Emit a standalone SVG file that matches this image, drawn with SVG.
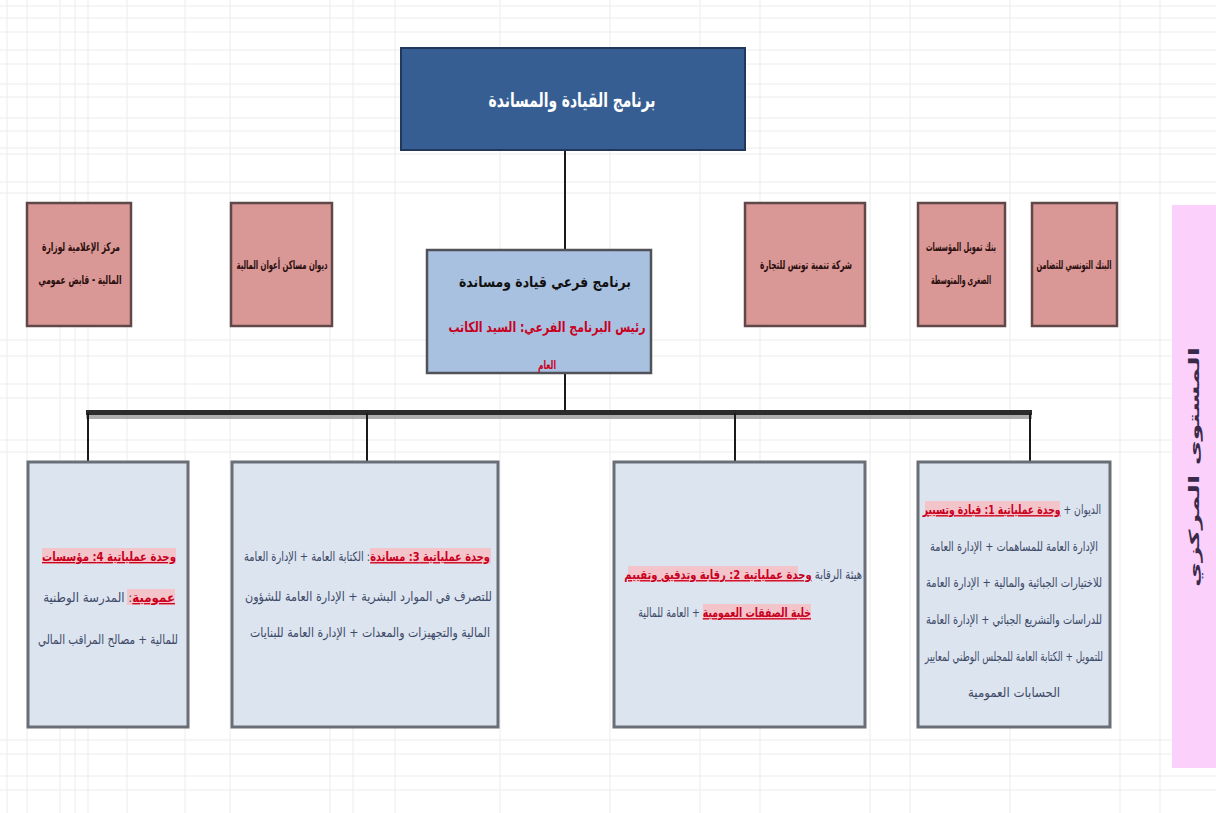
<svg xmlns="http://www.w3.org/2000/svg" width="1216" height="813" viewBox="0 0 1216 813">
<style>
  text { font-family: "DejaVu Sans", "Noto Sans", sans-serif; }
  .top { fill: #365e92; stroke: #22385a; stroke-width: 2; }
  .mid { fill: #a9c1e1; stroke: #505257; stroke-width: 2.5; }
  .pink { fill: #d99795; stroke: #604848; stroke-width: 2.5; }
  .unit { fill: #dce4ef; stroke: #6a6e76; stroke-width: 3; }
  .side { fill: #fbd0fb; }
  .ptxt { font-size: 12px; font-weight: bold; fill: #2a0e0e; }
  .utxt { font-size: 13px; fill: #3c4a68; }
  .red { fill: #c8001e; font-weight: bold; text-decoration: underline; }
  .hl { fill: #f4c4cb; }
  .conn { stroke: #1a1a1a; stroke-width: 2; fill: none; }
  .grid line { stroke: #ececec; stroke-width: 1; }
</style>
<rect width="1216" height="813" fill="#ffffff"/>
<g class="grid">
  <line x1="0" y1="6" x2="1216" y2="6"/><line x1="0" y1="18" x2="1216" y2="18"/><line x1="0" y1="32" x2="1216" y2="32"/>
  <line x1="0" y1="50" x2="1216" y2="50"/><line x1="0" y1="64" x2="1216" y2="64"/><line x1="0" y1="84" x2="1216" y2="84"/>
  <line x1="0" y1="97" x2="1216" y2="97"/><line x1="0" y1="118" x2="1216" y2="118"/><line x1="0" y1="131" x2="1216" y2="131"/>
  <line x1="0" y1="148" x2="1216" y2="148"/><line x1="0" y1="154" x2="1216" y2="154"/><line x1="0" y1="182" x2="1216" y2="182"/>
  <line x1="0" y1="193" x2="1216" y2="193"/><line x1="0" y1="340" x2="1216" y2="340"/><line x1="0" y1="356" x2="1216" y2="356"/>
  <line x1="0" y1="384" x2="1216" y2="384"/><line x1="0" y1="398" x2="1216" y2="398"/><line x1="0" y1="440" x2="1216" y2="440"/>
  <line x1="0" y1="452" x2="1216" y2="452"/><line x1="0" y1="740" x2="1216" y2="740"/><line x1="0" y1="754" x2="1216" y2="754"/>
  <line x1="0" y1="776" x2="1216" y2="776"/><line x1="0" y1="790" x2="1216" y2="790"/>
  <line x1="7" y1="0" x2="7" y2="813"/><line x1="27" y1="0" x2="27" y2="813"/><line x1="60" y1="0" x2="60" y2="813"/>
  <line x1="75" y1="0" x2="75" y2="813"/><line x1="88" y1="0" x2="88" y2="813"/><line x1="127" y1="0" x2="127" y2="813"/>
  <line x1="185" y1="0" x2="185" y2="813"/><line x1="230" y1="0" x2="230" y2="813"/><line x1="330" y1="0" x2="330" y2="813"/>
  <line x1="353" y1="0" x2="353" y2="813"/><line x1="395" y1="0" x2="395" y2="813"/><line x1="500" y1="0" x2="500" y2="813"/>
  <line x1="610" y1="0" x2="610" y2="813"/><line x1="700" y1="0" x2="700" y2="813"/><line x1="760" y1="0" x2="760" y2="813"/>
  <line x1="870" y1="0" x2="870" y2="813"/><line x1="910" y1="0" x2="910" y2="813"/><line x1="1010" y1="0" x2="1010" y2="813"/>
  <line x1="1120" y1="0" x2="1120" y2="813"/><line x1="1160" y1="0" x2="1160" y2="813"/>
</g>

<g id="connectors">
  <line class="conn" x1="565" y1="150" x2="565" y2="250"/>
  <line class="conn" x1="565" y1="373" x2="565" y2="411"/>
  <rect x="86" y="410" width="946" height="5" fill="#2b2b2b"/>
  <rect x="86" y="415" width="946" height="4" fill="#8a8a8a" opacity="0.7"/>
  <line class="conn" x1="88" y1="413" x2="88" y2="462"/>
  <line class="conn" x1="367" y1="413" x2="367" y2="462"/>
  <line class="conn" x1="735" y1="413" x2="735" y2="462"/>
  <line class="conn" x1="1030" y1="413" x2="1030" y2="462"/>
</g>

<g id="program">
  <rect class="top" x="401" y="48" width="344" height="102"/>
  <text x="572" y="107" text-anchor="middle" direction="rtl" font-size="20" font-weight="bold" fill="#ffffff" textLength="167" lengthAdjust="spacingAndGlyphs">برنامج القيادة والمساندة</text>
</g>

<g id="subprogram">
  <rect class="mid" x="427" y="250" width="224" height="123"/>
  <text x="545" y="287" text-anchor="middle" direction="rtl" font-size="15" font-weight="bold" fill="#111111" textLength="172" lengthAdjust="spacingAndGlyphs">برنامج فرعي قيادة ومساندة</text>
  <text x="547" y="332" text-anchor="middle" direction="rtl" font-size="14" font-weight="bold" fill="#c8001e" textLength="197" lengthAdjust="spacingAndGlyphs">رئيس البرنامج الفرعي: السيد الكاتب</text>
  <text x="547" y="369" text-anchor="middle" direction="rtl" font-size="12" font-weight="bold" fill="#c8001e" textLength="18" lengthAdjust="spacingAndGlyphs">العام</text>
</g>

<g id="entity1">
  <rect class="pink" x="1032" y="203" width="85" height="123"/>
  <text class="ptxt" x="1074" y="269" text-anchor="middle" direction="rtl" textLength="75" lengthAdjust="spacingAndGlyphs">البنك التونسي للتضامن</text>
</g>
<g id="entity2">
  <rect class="pink" x="918" y="203" width="87" height="123"/>
  <text class="ptxt" x="961" y="251" text-anchor="middle" direction="rtl" textLength="70" lengthAdjust="spacingAndGlyphs">بنك تمويل المؤسسات</text>
  <text class="ptxt" x="961" y="284" text-anchor="middle" direction="rtl" textLength="60" lengthAdjust="spacingAndGlyphs">الصغرى والمتوسطة</text>
</g>
<g id="entity3">
  <rect class="pink" x="745" y="203" width="120" height="123"/>
  <text class="ptxt" x="806" y="269" text-anchor="middle" direction="rtl" textLength="92" lengthAdjust="spacingAndGlyphs">شركة تنمية تونس للتجارة</text>
</g>
<g id="entity4">
  <rect class="pink" x="231" y="203" width="101" height="123"/>
  <text class="ptxt" x="282" y="269" text-anchor="middle" direction="rtl" textLength="91" lengthAdjust="spacingAndGlyphs">ديوان مساكن أعوان المالية</text>
</g>
<g id="entity5">
  <rect class="pink" x="27" y="203" width="104" height="123"/>
  <text class="ptxt" x="81" y="251" text-anchor="middle" direction="rtl" textLength="78" lengthAdjust="spacingAndGlyphs">مركز الإعلامية لوزارة</text>
  <text class="ptxt" x="80" y="284" text-anchor="middle" direction="rtl" textLength="83" lengthAdjust="spacingAndGlyphs">المالية - قابض عمومي</text>
</g>

<g id="unit1">
  <rect class="unit" x="918" y="462" width="192" height="265"/>
  <rect class="hl" x="925" y="501" width="135" height="16"/>
  <text class="utxt" transform="translate(1101 514) scale(0.71 1)" text-anchor="start" direction="rtl">الديوان + <tspan class="red">وحدة عملياتية 1: قيادة وتسيير</tspan></text>
  <text class="utxt" x="1014" y="551" text-anchor="middle" direction="rtl" textLength="168" lengthAdjust="spacingAndGlyphs">الإدارة العامة للمساهمات + الإدارة العامة</text>
  <text class="utxt" x="1014" y="587" text-anchor="middle" direction="rtl" textLength="176" lengthAdjust="spacingAndGlyphs">للاختيارات الجبائية والمالية + الإدارة العامة</text>
  <text class="utxt" x="1014" y="624" text-anchor="middle" direction="rtl" textLength="176" lengthAdjust="spacingAndGlyphs">للدراسات والتشريع الجبائي + الإدارة العامة</text>
  <text class="utxt" x="1014" y="661" text-anchor="middle" direction="rtl" textLength="178" lengthAdjust="spacingAndGlyphs">للتمويل + الكتابة العامة للمجلس الوطني لمعايير</text>
  <text class="utxt" x="1014" y="697" text-anchor="middle" direction="rtl" textLength="92" lengthAdjust="spacingAndGlyphs">الحسابات العمومية</text>
</g>

<g id="unit2">
  <rect class="unit" x="614" y="462" width="251" height="265"/>
  <rect class="hl" x="628" y="566" width="170" height="16"/>
  <text class="utxt" transform="translate(862 579) scale(0.77 1)" text-anchor="start" direction="rtl">هيئة الرقابة <tspan class="red">وحدة عملياتية 2: رقابة وتدقيق وتقييم</tspan></text>
  <rect class="hl" x="703" y="604" width="108" height="16"/>
  <text class="utxt" transform="translate(811 617) scale(0.72 1)" text-anchor="start" direction="rtl"><tspan class="red">خلية الصفقات العمومية</tspan> + العامة للمالية</text>
</g>

<g id="unit3">
  <rect class="unit" x="232" y="462" width="266" height="265"/>
  <rect class="hl" x="370" y="548" width="121" height="16"/>
  <text class="utxt" transform="translate(490 561) scale(0.76 1)" text-anchor="start" direction="rtl"><tspan class="red">وحدة عملياتية 3: مساندة</tspan>: الكتابة العامة + الإدارة العامة</text>
  <text class="utxt" x="492" y="601" text-anchor="start" direction="rtl" textLength="247" lengthAdjust="spacingAndGlyphs">للتصرف في الموارد البشرية + الإدارة العامة للشؤون</text>
  <text class="utxt" x="490" y="637" text-anchor="start" direction="rtl" textLength="240" lengthAdjust="spacingAndGlyphs">المالية والتجهيزات والمعدات + الإدارة العامة للبنايات</text>
</g>

<g id="unit4">
  <rect class="unit" x="28" y="462" width="160" height="265"/>
  <rect class="hl" x="42" y="548" width="134" height="16"/>
  <text class="red" x="176" y="561" text-anchor="start" direction="rtl" font-size="13" textLength="134" lengthAdjust="spacingAndGlyphs">وحدة عملياتية 4: مؤسسات</text>
  <rect class="hl" x="127" y="589" width="48" height="16"/>
  <text class="utxt" transform="translate(175 602) scale(0.91 1)" text-anchor="start" direction="rtl"><tspan class="red">عمومية</tspan>: المدرسة الوطنية</text>
  <text class="utxt" x="108" y="644" text-anchor="middle" direction="rtl" textLength="140" lengthAdjust="spacingAndGlyphs">للمالية + مصالح المراقب المالي</text>
</g>

<g id="level">
  <rect class="side" x="1172" y="205" width="44" height="563"/>
  <text transform="translate(1199 467) rotate(-90)" x="0" y="0" text-anchor="middle" direction="rtl" font-size="14" font-weight="bold" fill="#3a2a4a" textLength="240" lengthAdjust="spacingAndGlyphs">المستوى المركزي</text>
</g>
</svg>
